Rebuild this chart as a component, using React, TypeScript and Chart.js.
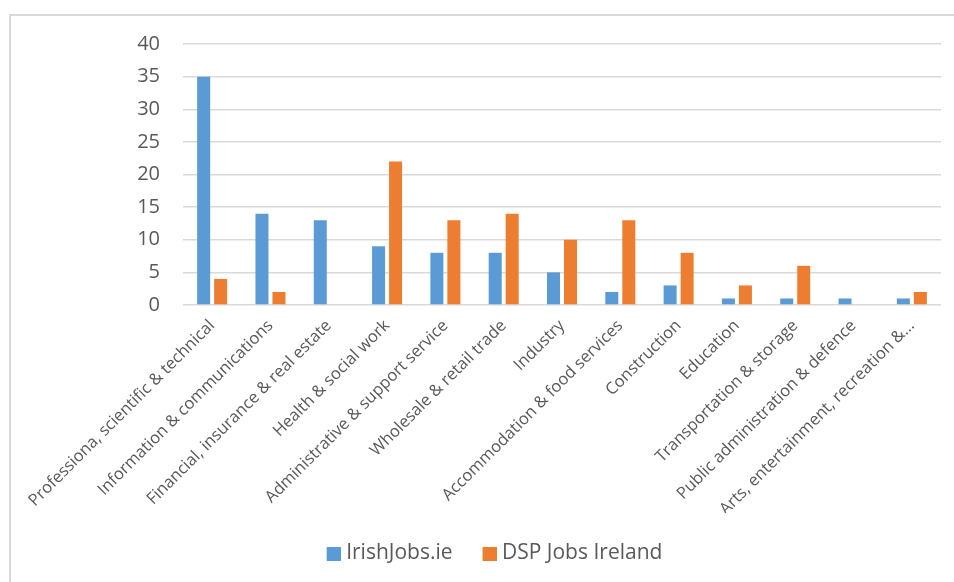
import React, { useEffect, useRef } from "react";
import { Chart, registerables } from "chart.js";

Chart.register(...registerables);

const categories = [
  "Professiona, scientific & technical",
  "Information & communications",
  "Financial, insurance & real estate",
  "Health & social work",
  "Administrative & support service",
  "Wholesale & retail trade",
  "Industry",
  "Accommodation & food services",
  "Construction",
  "Education",
  "Transportation & storage",
  "Public administration & defence",
  "Arts, entertainment, recreation &…",
];
const irishJobs = [35, 14, 13, 9, 8, 8, 5, 2, 3, 1, 1, 1, 1];
const dspJobs = [4, 2, 0, 22, 13, 14, 10, 13, 8, 3, 6, 0, 2];
const seriesNames = ["IrishJobs.ie", "DSP Jobs Ireland"];
const seriesColors = ["#5B9BD5", "#ED7D31"];
const yTicks = { min: 0, max: 40, step: 5 };

function legendSwatch(color: string): HTMLCanvasElement {
  const c = document.createElement("canvas");
  c.width = 19;
  c.height = 14;
  const ctx = c.getContext("2d")!;
  ctx.fillStyle = color;
  ctx.fillRect(5, 0, 14, 14);
  return c;
}

export default function App() {
  const ref = useRef<HTMLCanvasElement | null>(null);
  useEffect(() => {
    if (!ref.current) return;
    const swatches = seriesColors.map(legendSwatch);
    const chart = new Chart(ref.current, {
      type: "bar",
      data: {
        labels: categories,
        datasets: [
          {
            label: seriesNames[0],
            data: irishJobs,
            backgroundColor: seriesColors[0],
            categoryPercentage: 0.583,
            barPercentage: 0.765,
          },
          {
            label: seriesNames[1],
            data: dspJobs,
            backgroundColor: seriesColors[1],
            categoryPercentage: 0.583,
            barPercentage: 0.765,
          },
        ],
      },
      options: {
        animation: false,
        responsive: false,
        maintainAspectRatio: false,
        layout: { padding: { top: 44, right: 13, bottom: 8, left: 48 } },
        plugins: {
          tooltip: { enabled: false },
          legend: {
            position: "bottom",
            labels: {
              usePointStyle: true,
              pointStyleWidth: 9,
              boxHeight: 14,
              padding: 30,
              color: "#595959",
              font: { family: "Open Sans", size: 21 },
              generateLabels: (chart: any) => {
                const items = Chart.defaults.plugins.legend.labels.generateLabels(chart);
                items.forEach((it: any, i: number) => {
                  it.pointStyle = swatches[i];
                });
                return items;
              },
            },
          },
        },
        scales: {
          x: {
            grid: { display: false },
            border: { display: false },
            ticks: {
              color: "#595959",
              font: { family: "Open Sans", size: 16.5 },
              maxRotation: 45,
              minRotation: 45,
              autoSkip: false,
              padding: 3,
            },
            afterFit: (s: any) => {
              s.height = 208;
            },
          },
          y: {
            min: yTicks.min,
            max: yTicks.max,
            grid: { color: "#D9D9D9", lineWidth: 1.5, drawTicks: false },
            border: { display: false },
            ticks: {
              stepSize: yTicks.step,
              color: "#595959",
              font: { family: "Open Sans", size: 20 },
              padding: 23,
            },
            afterFit: (s: any) => {
              s.width = 135;
            },
          },
        },
      },
    });
    return () => chart.destroy();
  }, []);
  return (
    <div style={{ position: "absolute", left: 0, top: 0, width: 954, height: 582, overflow: "hidden", background: "#fff" }}>
      <div
        style={{
          position: "absolute",
          left: 9,
          top: 14,
          width: 960,
          height: 600,
          border: "2px solid #D9D9D9",
          boxSizing: "border-box",
        }}
      />
      <canvas ref={ref} width={954} height={582} style={{ position: "absolute", left: 0, top: 0 }} />
    </div>
  );
}
